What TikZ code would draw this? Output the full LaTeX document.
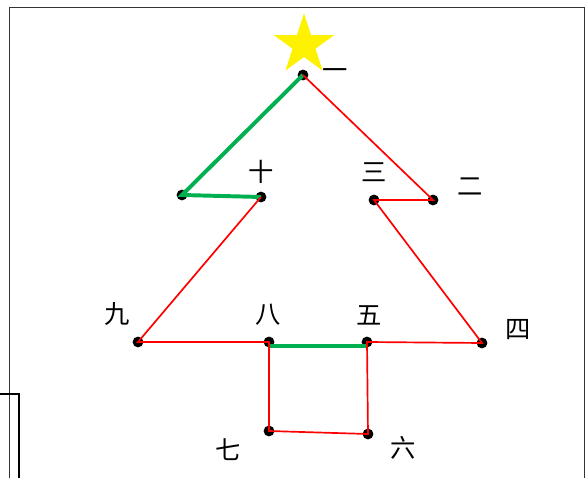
\documentclass[tikz,border=0pt]{standalone}
\usepackage{fontspec}
\newfontfamily\cjk{Noto Sans CJK SC}
\usetikzlibrary{shapes.geometric}
\definecolor{treegreen}{RGB}{0,176,80}
\begin{document}
\begin{tikzpicture}[x=0.025cm, y=-0.025cm,
    dot/.style={circle,fill=black,inner sep=0pt,minimum size=0.27cm},
    lbl/.style={inner sep=0pt,font=\cjk\fontsize{18}{18}\selectfont},
    redline/.style={red,line width=1.2pt},
    greenline/.style={treegreen,line width=2.8pt}]
  \useasboundingbox (0,0) rectangle (586,478);
  % Frames
  \draw[line width=0.7pt,black!80] (9,478) -- (9,7) -- (584,7) -- (584,478);
  \draw[line width=0.9pt] (0,394) -- (19,394) -- (19,478);
  % Star
  \node[star,star points=5,star point ratio=2.618,fill=yellow,inner sep=0pt,
        minimum size=1.58cm] (top) at (304,45) {};
  % Points
  \node[dot] (p1) at (303,75) {};
  \node[dot] (p2) at (433,200) {};
  \node[dot] (p3) at (374,200) {};
  \node[dot] (p4) at (482,343) {};
  \node[dot] (p5) at (367,342) {};
  \node[dot] (p6) at (368,434) {};
  \node[dot] (p7) at (269,431) {};
  \node[dot] (p8) at (269,342) {};
  \node[dot] (p9) at (138,342) {};
  \node[dot] (p10) at (261,197) {};
  \node[dot] (pa) at (182,195) {};
  % Labels
  \node[lbl] (l1) at (335,74) {一};
  \node[lbl] (l2) at (470,187) {二};
  \node[lbl] (l3) at (374,172) {三};
  \node[lbl] (l4) at (518,330) {四};
  \node[lbl] (l5) at (369,315) {五};
  \node[lbl] (l6) at (403,448) {六};
  \node[lbl] (l7) at (228,450) {七};
  \node[lbl] (l8) at (268,315) {八};
  \node[lbl] (l9) at (117,314) {九};
  \node[lbl] (l10) at (261,172) {十};
  % Green edges
  \draw[greenline] (p1.center) -- (pa.center) -- (p10.center);
  \draw[greenline] ([yshift=-3]p8.center) -- ([yshift=-3]p5.center);
  % Red edges
  \draw[redline] (p10.center) -- (p9.center) -- (p8.center) -- (p7.center)
    -- (p6.center) -- (p5.center) -- (p4.center) -- (p3.center)
    -- (p2.center) -- (p1.center);
\end{tikzpicture}
\end{document}
